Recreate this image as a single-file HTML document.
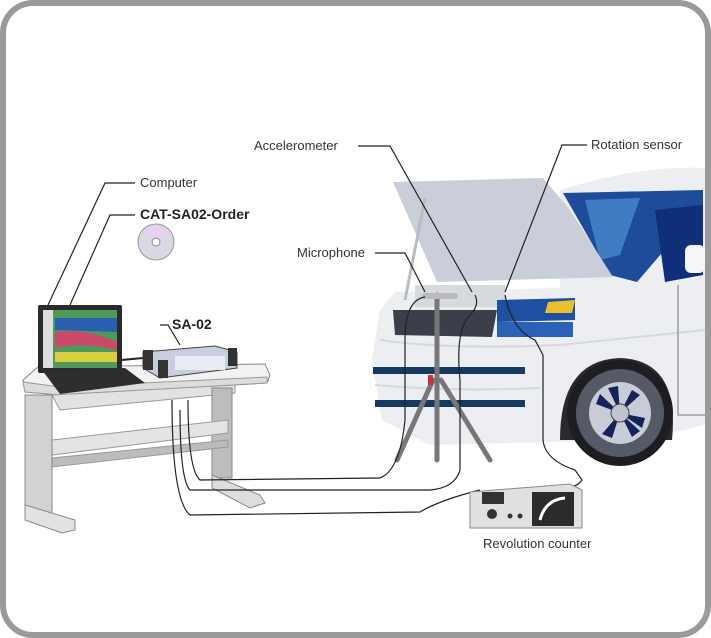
<!DOCTYPE html>
<html><head><meta charset="utf-8"><style>
html,body{margin:0;padding:0;background:#fff}
svg{display:block}
text{font-family:"Liberation Sans",sans-serif;font-size:13px;fill:#333}
</style></head><body>
<svg width="711" height="638" viewBox="0 0 711 638" xmlns="http://www.w3.org/2000/svg">
<rect x="3" y="3" width="705" height="632" rx="30" fill="#fff" stroke="#9a9a9a" stroke-width="6"/>
<!-- car body -->
<path d="M560,190 Q640,165 705,168 L705,425 L640,440 L430,445 L382,420 L372,360 L380,310 L395,292 L560,288 Z" fill="#eceef2"/>
<path d="M380,340 Q450,350 560,345 L705,330" fill="none" stroke="#d4d8e0" stroke-width="2"/>
<path d="M375,385 Q450,392 540,388" fill="none" stroke="#d4d8e0" stroke-width="2"/>
<path d="M563,193 L703,190 L703,205 L637,282 L610,275 Z" fill="#1e4b9a"/>
<path d="M585,200 L640,198 L620,255 L600,260 Z" fill="#3f7cc4"/>
<path d="M655,210 L703,205 L703,275 L665,282 Z" fill="#0f2f7a"/>
<rect x="685" y="245" width="20" height="28" rx="6" fill="#f4f6f8"/>
<path d="M678,285 L678,415 L705,415" fill="none" stroke="#777" stroke-width="1"/>
<!-- hood -->
<path d="M393,182 L543,178 L570,210 L613,277 L437,282 Z" fill="#c9ced8"/>
<line x1="425" y1="198" x2="405" y2="300" stroke="#b8bcc4" stroke-width="3"/>
<!-- engine -->
<rect x="415" y="285" width="90" height="22" fill="#d6d9de"/>
<!-- grille -->
<path d="M393,310 L497,310 L492,337 L395,335 Z" fill="#3b3f4a"/>
<path d="M497,300 L575,298 L575,320 L497,322 Z" fill="#1f4fa0"/>
<path d="M497,322 L573,322 L573,337 L497,337 Z" fill="#2b62b8"/>
<path d="M548,302 L575,300 L572,313 L545,313 Z" fill="#e8c030"/>
<!-- stripes -->
<rect x="373" y="367" width="152" height="7" fill="#15395f"/>
<rect x="375" y="400" width="150" height="7" fill="#15395f"/>
<!-- wheel -->
<path d="M560,440 Q560,360 620,358 Q680,360 672,440 Z" fill="#2a2a2e"/>
<circle cx="620" cy="413" r="53" fill="#1e1e22"/>
<circle cx="620" cy="413" r="44" fill="#555a66"/>
<circle cx="620" cy="413" r="31" fill="#c7ccd6"/>
<g fill="#16235a">
<path d="M620,413 L632,390 L640,395Z"/><path d="M620,413 L645,418 L642,428Z"/><path d="M620,413 L612,438 L602,434Z"/><path d="M620,413 L596,404 L600,394Z"/><path d="M620,413 L608,388 L618,386Z"/><path d="M620,413 L640,431 L632,437Z"/>
</g>
<circle cx="620" cy="413" r="9" fill="#bfc4ce" stroke="#444" stroke-width="1"/>
<!-- tripod -->
<g stroke="#777" stroke-linecap="round">
<line x1="437" y1="295" x2="437" y2="460" stroke-width="5"/>
<line x1="433" y1="380" x2="397" y2="460" stroke-width="5"/>
<line x1="441" y1="380" x2="490" y2="460" stroke-width="5"/>
<line x1="425" y1="296" x2="455" y2="296" stroke-width="6" stroke="#bbb"/>
</g>
<rect x="428" y="375" width="5" height="10" fill="#c33"/>
<!-- table -->
<path d="M23,380 L38,367 L265,364 L270,375 L267,383 L60,395 L25,392 Z" fill="#f2f2f2" stroke="#888"/>
<path d="M25,392 L60,395 L267,383 L267,377 L60,387 L23,382 Z" fill="#dcdcdc" stroke="#999"/>
<path d="M52,395 L60,410 L235,393 L235,385 Z" fill="#e2e2e2" stroke="#999"/>
<rect x="212" y="388" width="20" height="90" fill="#bdbdbd" stroke="#888"/>
<path d="M212,475 L260,495 L265,503 L250,508 L212,488 Z" fill="#ddd" stroke="#888"/>
<path d="M52,440 L228,420 L228,433 L52,455 Z" fill="#e4e4e4" stroke="#999"/>
<path d="M52,458 L228,440 L228,447 L52,467 Z" fill="#bcbcbc" stroke="#999"/>
<rect x="25" y="395" width="27" height="120" fill="#d2d2d2" stroke="#888"/>
<path d="M25,505 L75,520 L75,530 L62,533 L25,520 Z" fill="#e2e2e2" stroke="#888"/>
<!-- cables -->
<g fill="none" stroke="#222" stroke-width="1.2">
<path d="M425,297 Q405,300 405,340 L405,420 Q400,470 380,478 L200,480 Q188,470 188,400"/>
<path d="M475,295 Q480,305 470,315 Q455,330 460,380 L460,470 Q455,488 430,490 L190,490 Q180,480 180,410"/>
<path d="M505,295 Q512,330 535,340 L543,355 L543,440 Q545,460 575,470 L582,480 Q575,490 560,485"/>
<path d="M480,490 Q440,500 420,512 L190,515 Q172,500 172,400"/>
</g>
<!-- revolution counter -->
<path d="M470,492 L570,484 L582,490 L582,528 L470,528 Z" fill="#e0e0e0" stroke="#888"/>
<rect x="532" y="492" width="42" height="34" fill="#2b2b2b"/>
<path d="M540,520 Q545,500 565,498" stroke="#fff" stroke-width="3" fill="none"/>
<rect x="482" y="492" width="22" height="12" fill="#333"/>
<circle cx="492" cy="514" r="5" fill="#333"/>
<circle cx="510" cy="516" r="2.5" fill="#333"/><circle cx="520" cy="516" r="2.5" fill="#333"/>
<!-- laptop -->
<rect x="38" y="305" width="84" height="68" rx="2" fill="#2a2a2a"/>
<rect x="43" y="310" width="74" height="58" fill="#4f9a5a"/>
<path d="M55,318 L117,318 L117,332 L55,330 Z" fill="#2a5fb0"/>
<path d="M55,332 Q85,328 117,342 L117,350 Q85,342 55,348 Z" fill="#c94a6a"/>
<path d="M55,352 L117,352 L117,362 L55,362 Z" fill="#d8d040"/>
<rect x="43" y="310" width="10" height="58" fill="#ddd"/>
<path d="M42,370 L125,368 L145,383 L60,394 Z" fill="#2e2e2e"/>
<line x1="122" y1="360" x2="143" y2="358" stroke="#222" stroke-width="2"/>
<!-- SA-02 -->
<path d="M143,352 L215,346 L237,352 L237,368 L160,378 L143,368 Z" fill="#c9cede" stroke="#444"/>
<rect x="143" y="350" width="10" height="20" fill="#333"/>
<rect x="158" y="360" width="10" height="18" fill="#333"/>
<rect x="228" y="348" width="9" height="18" fill="#333"/>
<rect x="175" y="356" width="50" height="14" fill="#e8ecf4"/>
<!-- CD -->
<circle cx="156" cy="242" r="18" fill="#d9d9e4" stroke="#999"/>
<path d="M142,232 A18,18 0 0 1 170,234 L156,242 Z" fill="#e8d0f0"/>
<circle cx="156" cy="242" r="4" fill="#fff" stroke="#888"/>
<!-- leader lines -->
<g fill="none" stroke="#222" stroke-width="1.2">
<path d="M135,183 L105,183 L48,305"/>
<path d="M135,215 L110,215 L70,305"/>
<path d="M160,325 L168,325 L180,345"/>
<path d="M358,146 L390,146 L472,292"/>
<path d="M375,253 L405,253 L425,292"/>
<path d="M587,145 L562,145 L505,292"/>
</g>
<text x="140" y="187">Computer</text>
<text x="140" y="219" style="font-weight:bold;font-size:14px;fill:#222">CAT-SA02-Order</text>
<text x="172" y="329" style="font-weight:bold;font-size:14px;fill:#222">SA-02</text>
<text x="254" y="150">Accelerometer</text>
<text x="297" y="257">Microphone</text>
<text x="591" y="149">Rotation sensor</text>
<text x="483" y="548">Revolution counter</text>
</svg>
</body></html>
